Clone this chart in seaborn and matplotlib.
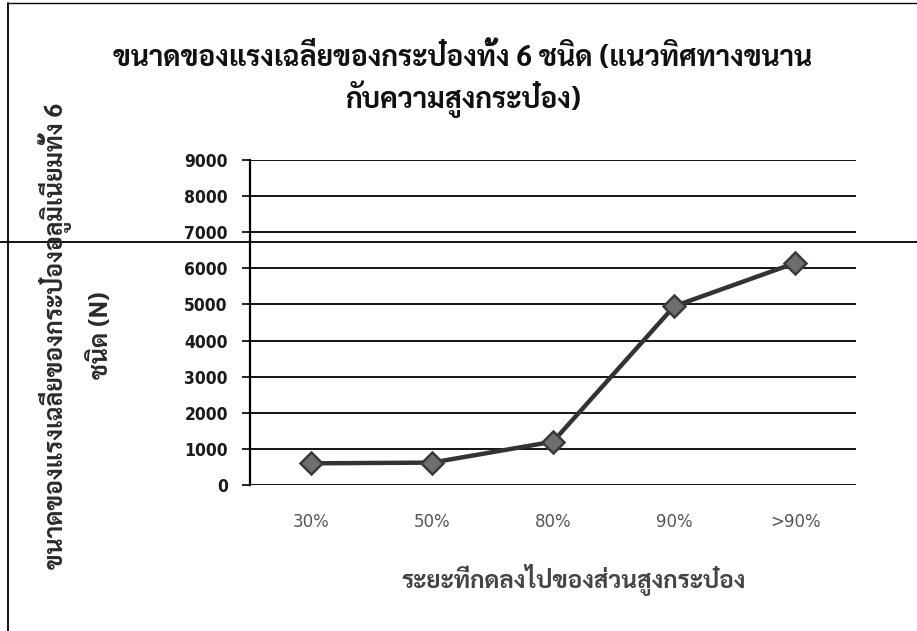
import matplotlib
matplotlib.use("Agg")
import matplotlib.pyplot as plt
from matplotlib import font_manager, ft2font
from matplotlib.lines import Line2D
import seaborn as sns
import pandas as pd

categories = ["30%", "50%", "80%", "90%", ">90%"]
values = [600, 620, 1200, 4950, 6150]
yticks = [0, 1000, 2000, 3000, 4000, 5000, 6000, 7000, 8000, 9000]

title1 = "ขนาดของแรงเฉลี่ยของกระป๋องทั้ง 6 ชนิด (แนวทิศทางขนาน"
title2 = "กับความสูงกระป๋อง)"
ylabel1 = "ขนาดของแรงเฉลี่ยของกระป๋องอลูมิเนียมทั้ง 6"
ylabel2 = "ชนิด (N)"
xlabel = "ระยะที่กดลงไปของส่วนสูงกระป๋อง"

sns.set_theme(style="white")


def thai_bold_family():
    pref = ["Sarabun", "Noto Sans Thai", "Noto Sans Thai Looped", "Athiti",
            "Bai Jamjuree", "Chakra Petch"]
    ok = {}
    for f in font_manager.fontManager.ttflist:
        try:
            w = int(f.weight) if str(f.weight).isdigit() else (700 if "bold" in str(f.weight) else 400)
        except Exception:
            w = 400
        if w >= 600 and f.style == "normal":
            try:
                cm = ft2font.FT2Font(f.fname).get_charmap()
                if 0x0E02 in cm:
                    ok[f.name] = True
            except Exception:
                pass
    for p in pref:
        if p in ok:
            return p
    return next(iter(ok), "DejaVu Sans")


fam = thai_bold_family()
plt.rcParams["font.family"] = [fam, "DejaVu Sans"]

df = pd.DataFrame({"cat": categories, "val": values})

fig = plt.figure(figsize=(9.17, 6.31), dpi=100)
ax = fig.add_axes([250 / 917, 1 - 485 / 631, (856 - 250) / 917, (485 - 160) / 631])

sns.lineplot(data=df, x="cat", y="val", sort=False, ax=ax, color="#333333",
             linewidth=3.2, marker="D", markersize=11, markerfacecolor="#6e6e6e",
             markeredgecolor="#3a3a3a", markeredgewidth=1.8, zorder=5)

ax.set_xlim(-0.5, len(categories) - 0.5)
ax.set_ylim(0, 9000)
ax.set_yticks(yticks)
ax.set_yticklabels([str(v) for v in yticks], fontsize=12.5, fontweight="bold",
                   color="#1a1a1a", family=["DejaVu Sans"], fontstretch="condensed")
ax.set_xticks(range(len(categories)))
ax.set_xticklabels(categories, fontsize=12, color="#555555", family=["DejaVu Sans"])
ax.tick_params(axis="x", length=0, pad=20)
ax.tick_params(axis="y", length=6, width=1.2, color="black", direction="out", left=True, pad=10)
ax.yaxis.grid(True, color="black", linewidth=1.3)
ax.xaxis.grid(False)
for s in ["top", "right", "bottom"]:
    ax.spines[s].set_visible(False)
ax.spines["left"].set_color("black")
ax.spines["left"].set_linewidth(1.6)
ax.set_xlabel("")
ax.set_ylabel("")

renderer = fig.canvas.get_renderer()


def fit(t, target, vertical=False):
    t.set_fontsize(20)
    bb = t.get_window_extent(renderer)
    size = bb.height if vertical else bb.width
    t.set_fontsize(20 * target / size)
    return t.get_fontsize()


t1 = fig.text(463 / 917, 1 - 66 / 631, title1, ha="center", va="baseline",
              fontweight="bold", color="#111111")
fs = fit(t1, 700)
fig.text(463 / 917, 1 - 108 / 631, title2, ha="center", va="baseline",
         fontweight="bold", color="#111111", fontsize=fs)

y1 = fig.text(55 / 917, 1 - 336 / 631, ylabel1, rotation=90, ha="center", va="center",
              fontweight="bold", color="#2a2a2a")
fsy = fit(y1, 468, vertical=True)
fig.text(101 / 917, 1 - 335 / 631, ylabel2, rotation=90, ha="center", va="center",
         fontweight="bold", color="#2a2a2a", fontsize=fsy)

xl = fig.text(574 / 917, 1 - 580 / 631, xlabel, ha="center", va="center",
              fontweight="bold", color="#444444")
fit(xl, 345)

# page border lines from the scanned document
fig.add_artist(Line2D([0, 1], [1 - 242 / 631, 1 - 242 / 631], color="black", linewidth=1.3))
fig.add_artist(Line2D([8 / 917, 8 / 917], [0, 1 - 3 / 631], color="black", linewidth=1.3))
fig.add_artist(Line2D([8 / 917, 1], [1 - 3 / 631, 1 - 3 / 631], color="black", linewidth=1.0))

fig.savefig("out.png", dpi=100)
